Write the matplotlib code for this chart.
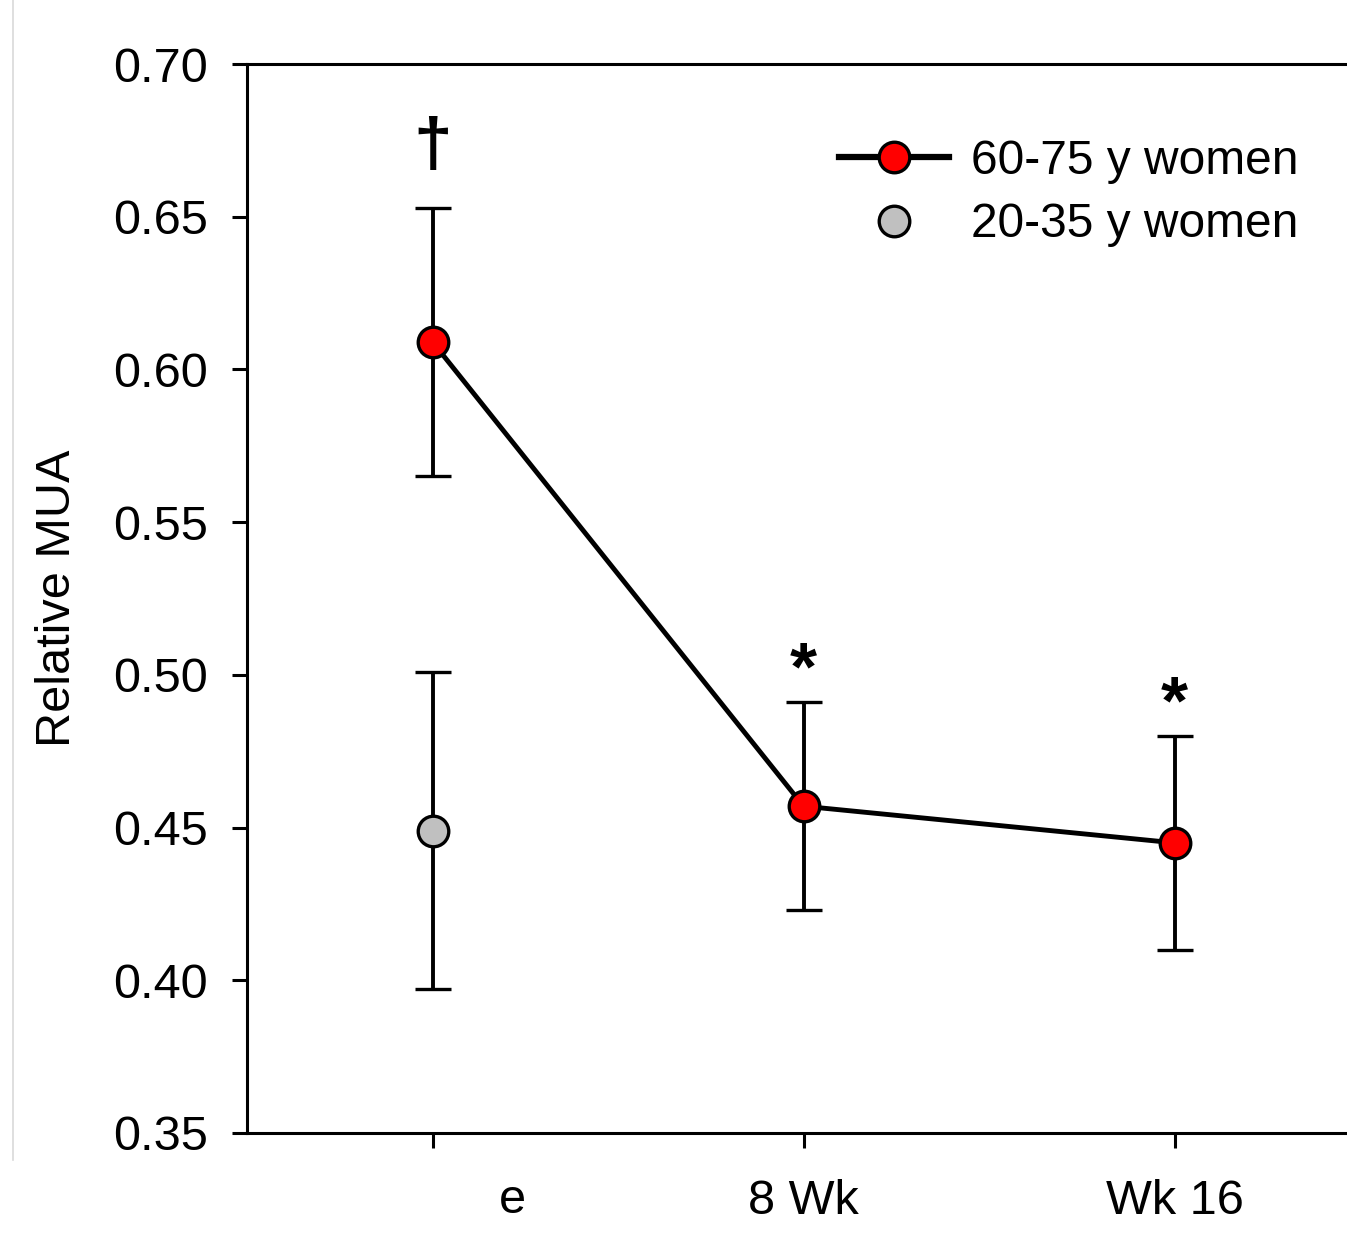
import matplotlib
matplotlib.use("Agg")
import matplotlib.pyplot as plt
from matplotlib.lines import Line2D

plt.rcParams['font.family'] = ['Liberation Sans', 'DejaVu Sans']

# Data
x_old = [0, 1, 2]
old_mean = [0.609, 0.457, 0.445]
old_err = [0.044, 0.034, 0.035]
x_young = [0]
young_mean = [0.449]
young_err = [0.052]
tick_labels = ["", "8 Wk", "Wk 16"]
first_label = "e"
annotations = [(0, 0.6725, "\u2020", 50), (1, 0.501, "*", 50), (2, 0.490, "*", 50)]

W, H = 1347, 1245
fig = plt.figure(figsize=(W / 100, H / 100), dpi=100)
ax = fig.add_axes([247 / W, 1 - 1133 / H, (1360 - 247) / W, (1133 - 64) / H])

ax.errorbar(x_old, old_mean, yerr=old_err, color='black', lw=3.5, elinewidth=2.8,
            capsize=13, capthick=2.8, marker='o', markersize=22,
            markerfacecolor='#ff0000', markeredgecolor='black', markeredgewidth=2.4,
            zorder=3)
ax.errorbar(x_young, young_mean, yerr=young_err, color='black', lw=0, elinewidth=2.8,
            capsize=13, capthick=2.8, marker='o', markersize=22,
            markerfacecolor='#c0c0c0', markeredgecolor='black', markeredgewidth=2.4,
            zorder=3)

for xa, ya, s, fs in annotations:
    ax.text(xa, ya, s, ha='center', va='center', fontsize=fs,
            fontweight='bold')

ax.set_xlim(-0.5, 2.5)
ax.set_ylim(0.35, 0.70)
yt = [0.35, 0.40, 0.45, 0.50, 0.55, 0.60, 0.65, 0.70]
ax.set_yticks(yt)
ax.set_yticklabels([f"{v:.2f}" for v in yt])
ax.set_xticks(x_old)
ax.set_xticklabels(tick_labels)
ax.text(0.215, -0.063, first_label, transform=ax.get_xaxis_transform(),
        ha='center', va='center', fontsize=35)
ax.tick_params(axis='both', direction='out', length=11, width=2.2, labelsize=35)
ax.tick_params(axis='y', pad=17)
ax.tick_params(axis='x', pad=22)
for sp in ax.spines.values():
    sp.set_linewidth(2.2)
ax.set_ylabel("Relative MUA", fontsize=35, labelpad=24)

handles = [
    Line2D([], [], color='black', lw=4.5, marker='o', markersize=22,
           markerfacecolor='#ff0000', markeredgecolor='black', markeredgewidth=2.4),
    Line2D([], [], color='none', lw=0, marker='o', markersize=22,
           markerfacecolor='#c0c0c0', markeredgecolor='black', markeredgewidth=2.4),
]
leg = ax.legend(handles, ["60-75 y women", "20-35 y women"], frameon=False,
                loc='upper left', bbox_to_anchor=(820 / W, 1 - 120 / H),
                bbox_transform=fig.transFigure, fontsize=34.5, handlelength=2.3,
                handletextpad=0.45, labelspacing=0.38, borderaxespad=0)

fig.add_artist(Line2D([13 / W, 13 / W], [1 - 1160 / H, 1], transform=fig.transFigure,
                      color='#d9d9d9', lw=1.2))

fig.savefig("out.png", dpi=100)
